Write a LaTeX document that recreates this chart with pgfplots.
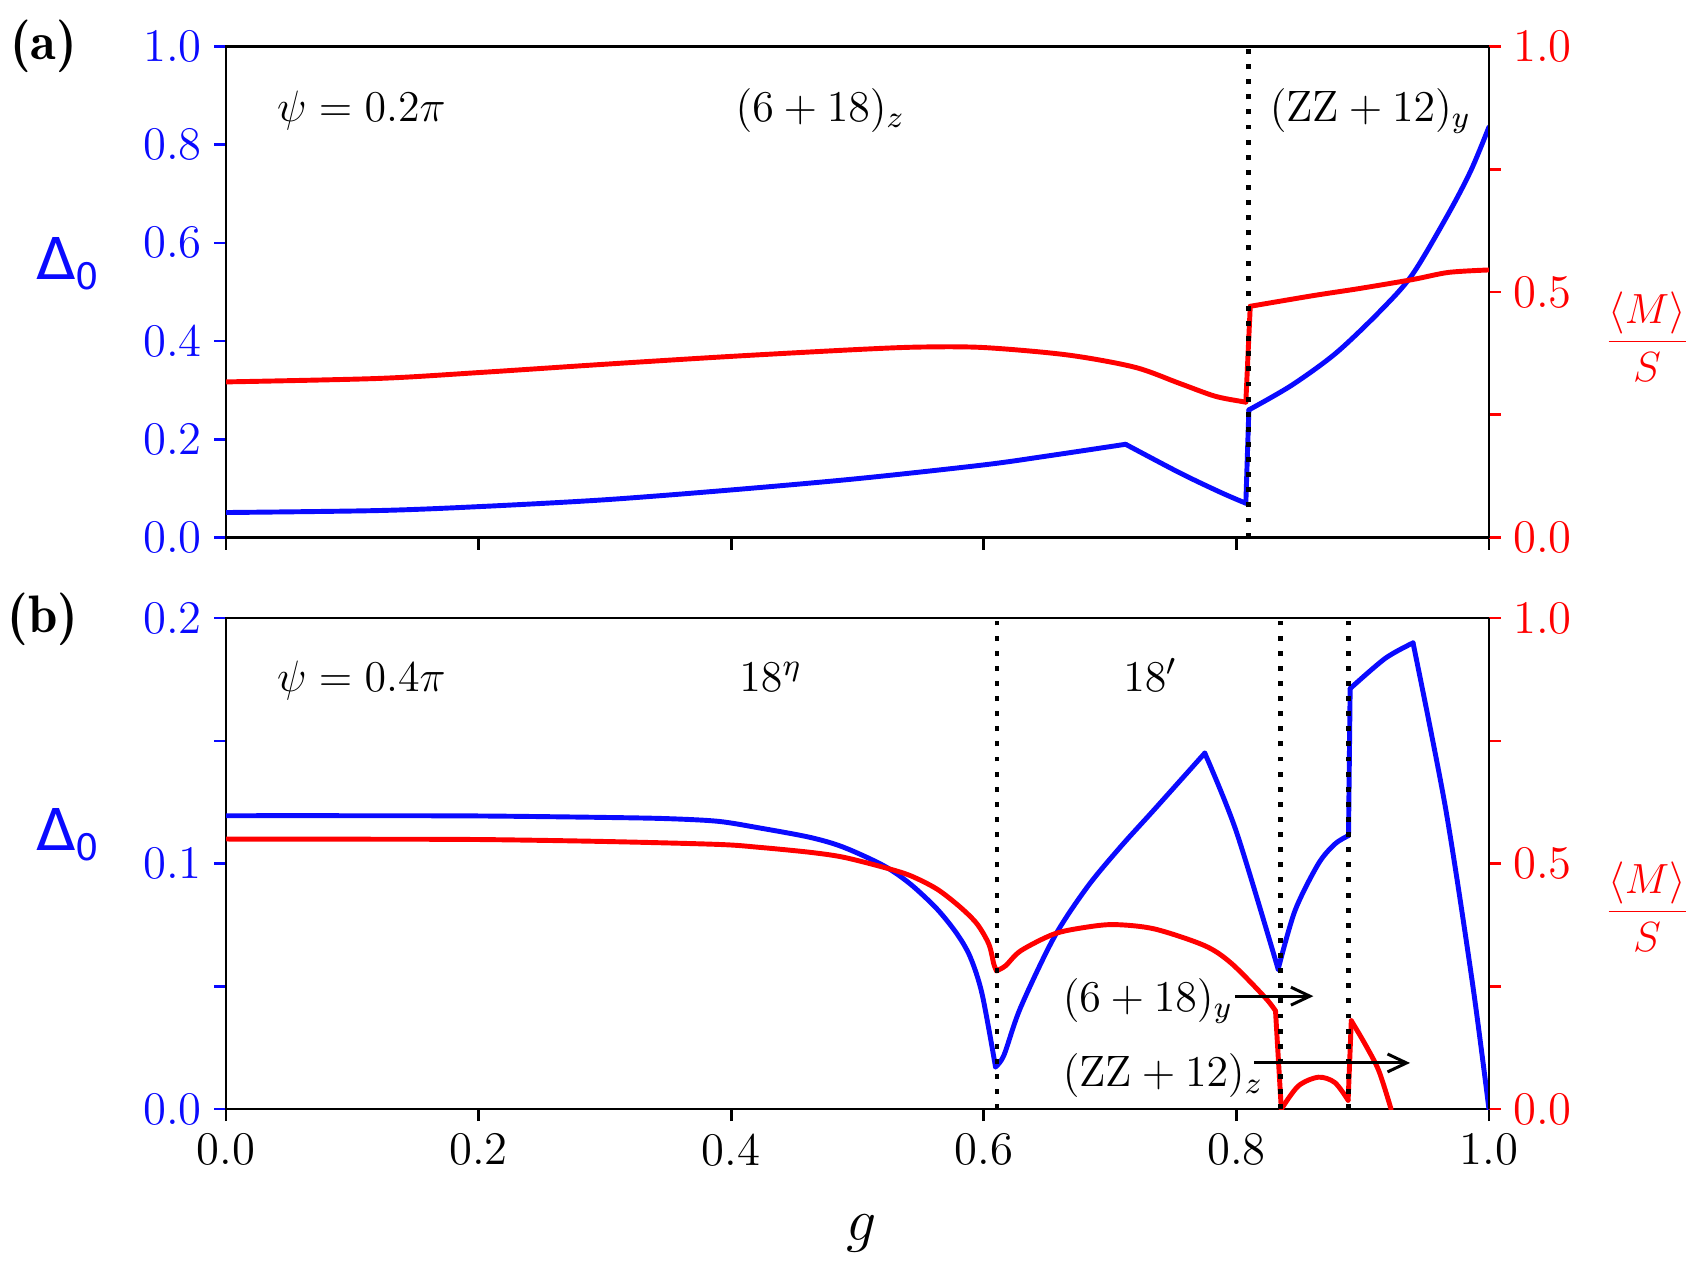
\RequirePackage{fix-cm}
\documentclass[border=0pt]{standalone}
\usepackage{fontspec}
\newfontfamily\dejavu{DejaVu Sans}
\newfontfamily\lmdemi{lmromandemi10-regular}[Extension=.otf]
\usepackage{pgfplots}
\pgfplotsset{compat=1.18}
\usetikzlibrary{arrows.meta}
\definecolor{cb}{RGB}{10,10,255}
\definecolor{cr}{RGB}{255,0,0}
\newcommand{\tickfont}{\fontsize{13.3}{16}\selectfont}
\newcommand{\annfont}{\fontsize{12.5}{15}\selectfont}
\pgfplotsset{
  base/.style={scale only axis, width=359.3pt, xmin=0, xmax=1, anchor=south west,
    axis line style={line width=0.75pt}, major tick length=3.4pt, tick align=outside,
    tick label style={font=\tickfont}, clip=true},
  leftax/.style={base, ytick pos=left, xtick pos=bottom, xtick={0,0.2,0.4,0.6,0.8,1},
    x tick style={draw=black, line width=0.75pt},
    y tick style={draw=cb, line width=0.75pt}, y tick label style={text=cb}},
  rightax/.style={base, axis y line*=right, axis x line=none, ymin=0, ymax=1,
    ytick={0,0.25,0.5,0.75,1}, yticklabels={0.0,,0.5,,1.0},
    y tick style={draw=cr, line width=0.75pt}, y tick label style={text=cr}},
}
\tikzset{
  bl/.style={cb, line width=1.4pt, line join=round, line cap=round},
  rd/.style={cr, line width=1.4pt, line join=round, line cap=round},
  vdot/.style={black, line width=1.3pt, dash pattern=on 1.4pt off 2.9pt},
  ann/.style={anchor=base west, inner sep=0pt, font=\annfont},
  arr/.style={line width=0.85pt, -{Straight Barb[length=5.4pt,width=5.1pt]}},
}
\begin{document}
\begin{tikzpicture}
\path[use as bounding box] (0,0) rectangle (483.65pt,359.04pt);
% ---------------- panel (a) ----------------
\begin{axis}[leftax, at={(64.3pt,206.1pt)}, height=139.7pt, ymin=0, ymax=1,
  ytick={0,0.2,0.4,0.6,0.8,1}, yticklabels={0.0,0.2,0.4,0.6,0.8,1.0}, xticklabels={}]
\addplot[bl, smooth] coordinates {
(0.000,0.051) (0.120,0.055) (0.200,0.063) (0.300,0.077) (0.400,0.097)
(0.500,0.120) (0.600,0.148) (0.650,0.166) (0.7123,0.190)};
\addplot[bl, smooth] coordinates {
(0.7123,0.190) (0.755,0.132) (0.785,0.095) (0.800,0.078) (0.8075,0.070)};
\addplot[bl] coordinates {(0.8075,0.070) (0.8099,0.260)};
\addplot[bl, smooth] coordinates {
(0.8099,0.260) (0.8437,0.310) (0.879,0.376) (0.9147,0.4635) (0.9396,0.5365)
(0.968,0.660) (0.9858,0.748) (1.000,0.836)};
\node[ann] at (rel axis cs:0.040,0.848) {$\psi = 0.2\pi$};
\node[ann] at (rel axis cs:0.403,0.848) {$(6+18)_z$};
\node[ann] at (rel axis cs:0.826,0.848) {$(\mathrm{ZZ}+12)_y$};
\end{axis}
\begin{axis}[rightax, at={(64.3pt,206.1pt)}, height=139.7pt]
\addplot[rd, smooth] coordinates {
(0.000,0.317) (0.120,0.324) (0.200,0.336) (0.300,0.353) (0.400,0.369)
(0.500,0.383) (0.550,0.388) (0.600,0.387) (0.666,0.372) (0.7194,0.347)
(0.755,0.314) (0.783,0.288) (0.8046,0.277) (0.8075,0.276)};
\addplot[rd] coordinates {(0.8075,0.276) (0.811,0.471)};
\addplot[rd, smooth] coordinates {
(0.811,0.471) (0.8615,0.493) (0.897,0.507) (0.9396,0.5255) (0.968,0.540) (1.000,0.545)};
\addplot[vdot] coordinates {(0.8095,0) (0.8095,1)};
\end{axis}
% ---------------- panel (b) ----------------
\begin{axis}[leftax, at={(64.3pt,43.5pt)}, height=139.7pt, ymin=0, ymax=0.2,
  ytick={0,0.05,0.1,0.15,0.2}, yticklabels={0.0,,0.1,,0.2},
  xticklabels={0.0,0.2,0.4,0.6,0.8,1.0}]
\addplot[bl, smooth] coordinates {
(0.000,0.1195) (0.100,0.1195) (0.200,0.1194) (0.300,0.1188) (0.350,0.1183)
(0.390,0.1172) (0.4226,0.1145) (0.4623,0.1107) (0.4888,0.1067) (0.5206,0.0992)
(0.5418,0.0917) (0.563,0.0815) (0.5789,0.0713) (0.5894,0.0618) (0.5987,0.0468)
(0.6093,0.0172)};
\addplot[bl, smooth] coordinates {
(0.6093,0.0172) (0.616,0.0220) (0.629,0.0412) (0.6556,0.0699) (0.682,0.0905)
(0.7086,0.1070) (0.735,0.122) (0.775,0.145)};
\addplot[bl, smooth] coordinates {
(0.775,0.145) (0.800,0.113) (0.8331,0.0570)};
\addplot[bl, smooth] coordinates {
(0.8331,0.0570) (0.8464,0.0808) (0.8649,0.0999) (0.8781,0.1080) (0.8888,0.1114)};
\addplot[bl] coordinates {(0.8888,0.1114) (0.8901,0.1713)};
\addplot[bl, smooth] coordinates {
(0.8901,0.1713) (0.9179,0.1836) (0.9399,0.1899)};
\addplot[bl, smooth] coordinates {
(0.9399,0.1899) (0.9655,0.1230) (0.9867,0.0522) (1.000,0.000)};
\end{axis}
\begin{axis}[rightax, at={(64.3pt,43.5pt)}, height=139.7pt]
\addplot[rd, smooth] coordinates {
(0.000,0.550) (0.100,0.5497) (0.200,0.549) (0.300,0.545) (0.390,0.539)
(0.4226,0.533) (0.4623,0.523) (0.4888,0.513) (0.5206,0.4925) (0.5418,0.4755)
(0.563,0.448) (0.5815,0.411) (0.5947,0.377) (0.6040,0.336) (0.6080,0.295)
(0.6101,0.2816)};
\addplot[rd, smooth] coordinates {
(0.6101,0.2816) (0.6173,0.292) (0.6293,0.3225) (0.6556,0.3566) (0.680,0.370)
(0.7033,0.3758) (0.735,0.367) (0.7748,0.333) (0.796,0.297) (0.8225,0.228)
(0.831,0.200)};
\addplot[rd] coordinates {(0.831,0.200) (0.8356,0.000)};
\addplot[rd, smooth] coordinates {
(0.8356,0.000) (0.849,0.047) (0.865,0.065) (0.878,0.054) (0.8885,0.018)};
\addplot[rd] coordinates {(0.8885,0.018) (0.891,0.180)};
\addplot[rd, smooth] coordinates {
(0.891,0.180) (0.902,0.132) (0.9128,0.078) (0.9225,0.000)};
\addplot[vdot] coordinates {(0.6106,0) (0.6106,1)};
\addplot[vdot] coordinates {(0.835,0) (0.835,1)};
\addplot[vdot] coordinates {(0.889,0) (0.889,1)};
\node[ann] at (rel axis cs:0.040,0.851) {$\psi = 0.4\pi$};
\node[ann] at (rel axis cs:0.406,0.851) {$18^\eta$};
\node[ann] at (rel axis cs:0.710,0.851) {$18'$};
\node[ann] at (rel axis cs:0.662,0.199) {$(6+18)_y$};
\node[ann] at (rel axis cs:0.662,0.046) {$(\mathrm{ZZ}+12)_z$};
\draw[arr] (axis cs:0.799,0.230) -- (axis cs:0.861,0.230);
\draw[arr] (axis cs:0.814,0.094) -- (axis cs:0.9375,0.094);
\end{axis}
% ---------------- outer labels ----------------
\node[font=\lmdemi\fontsize{15}{18}\selectfont] at (12.4pt,345.9pt) {(a)};
\node[font=\lmdemi\fontsize{15}{18}\selectfont] at (12.2pt,182.8pt) {(b)};
\node[text=cb, inner sep=0pt] at (19.2pt,284.0pt) {\dejavu\fontsize{16.4}{18}\selectfont Δ\raisebox{-2.8pt}{\fontsize{10.4}{12}\selectfont 0}};
\node[text=cb, inner sep=0pt] at (19.3pt,121.6pt) {\dejavu\fontsize{16.4}{18}\selectfont Δ\raisebox{-2.8pt}{\fontsize{10.4}{12}\selectfont 0}};
\node[text=cr, inner sep=0pt, font=\fontsize{12}{14}\selectfont] at (468.6pt,263.3pt) {$\displaystyle\frac{\langle M\rangle}{S}$};
\node[text=cr, inner sep=0pt, font=\fontsize{12}{14}\selectfont] at (468.6pt,101.1pt) {$\displaystyle\frac{\langle M\rangle}{S}$};
\node[inner sep=0pt, font=\fontsize{17}{20}\selectfont] at (245.0pt,8.0pt) {$g$};
\end{tikzpicture}
\end{document}
